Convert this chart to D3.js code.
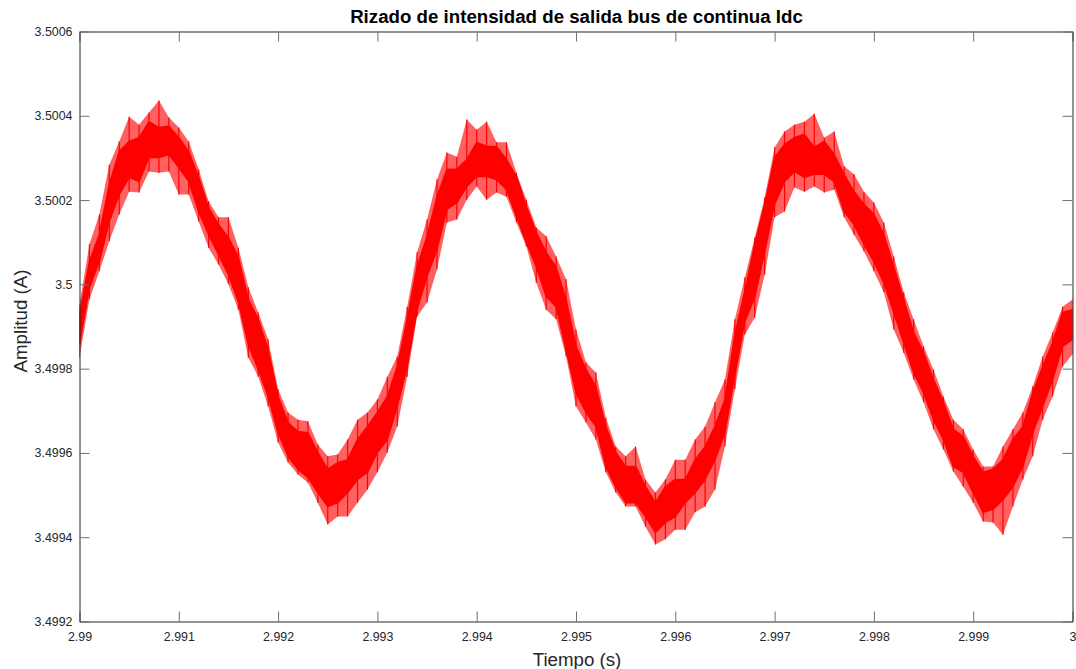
<!DOCTYPE html>
<html>
<head>
<meta charset="utf-8">
<script src="https://cdn.jsdelivr.net/npm/d3@7"></script>
<style>
  html, body { margin: 0; padding: 0; background: #ffffff; }
  svg { display: block; font-family: "Liberation Sans", Arial, Helvetica, sans-serif; }
</style>
</head>
<body>
<svg id="chart" width="1076" height="669"></svg>
<script>
// Ripple of the DC-bus output current, sampled every 0.1 ms.
// For each sample: extent of the dense ripple band (bandTop/bandBottom)
// and extent of the switching spikes (spikeTop/spikeBottom), in amperes.
const tStart = 2.99;
const tStep = 0.0001;

const spikeTop = [
  3.499952, 3.500095, 3.500166, 3.500284, 3.500339, 3.500398, 3.500379, 3.500408, 3.500436, 3.500396,
  3.500372, 3.500339, 3.500273, 3.500197, 3.500159, 3.500159, 3.500087, 3.499993, 3.499933, 3.499869,
  3.499751, 3.499696, 3.499679, 3.499675, 3.499620, 3.499592, 3.499596, 3.499632, 3.499679, 3.499696,
  3.499727, 3.499781, 3.499829, 3.499947, 3.500076, 3.500154, 3.500249, 3.500313, 3.500303, 3.500391,
  3.500367, 3.500386, 3.500337, 3.500337, 3.500265, 3.500201, 3.500135, 3.500114, 3.500066, 3.500012,
  3.499893, 3.499815, 3.499791, 3.499684, 3.499615, 3.499592, 3.499615, 3.499537, 3.499506, 3.499537,
  3.499584, 3.499584, 3.499632, 3.499663, 3.499720, 3.499774, 3.499917, 3.500016, 3.500111, 3.500206,
  3.500325, 3.500363, 3.500379, 3.500386, 3.500405, 3.500348, 3.500363, 3.500280, 3.500261, 3.500220,
  3.500194, 3.500147, 3.500066, 3.499981, 3.499917, 3.499853, 3.499798, 3.499734, 3.499679, 3.499656,
  3.499608, 3.499568, 3.499568, 3.499615, 3.499656, 3.499696, 3.499758, 3.499829, 3.499886, 3.499947,
  3.499964
];

const bandTop = [
  3.499928, 3.500054, 3.500118, 3.500237, 3.500315, 3.500339, 3.500348, 3.500386, 3.500372, 3.500375,
  3.500348, 3.500315, 3.500254, 3.500182, 3.500142, 3.500111, 3.500064, 3.499964, 3.499917, 3.499845,
  3.499734, 3.499672, 3.499651, 3.499648, 3.499601, 3.499561, 3.499577, 3.499584, 3.499632, 3.499663,
  3.499696, 3.499734, 3.499805, 3.499917, 3.500042, 3.500114, 3.500208, 3.500273, 3.500273, 3.500296,
  3.500337, 3.500327, 3.500327, 3.500296, 3.500256, 3.500185, 3.500123, 3.500076, 3.500040, 3.499964,
  3.499853, 3.499798, 3.499758, 3.499663, 3.499601, 3.499568, 3.499568, 3.499520, 3.499482, 3.499520,
  3.499537, 3.499537, 3.499584, 3.499615, 3.499663, 3.499727, 3.499881, 3.499983, 3.500095, 3.500190,
  3.500301, 3.500332, 3.500348, 3.500356, 3.500325, 3.500339, 3.500308, 3.500261, 3.500220, 3.500190,
  3.500166, 3.500118, 3.500042, 3.499964, 3.499886, 3.499838, 3.499774, 3.499720, 3.499656, 3.499639,
  3.499592, 3.499554, 3.499561, 3.499584, 3.499632, 3.499663, 3.499743, 3.499805, 3.499862, 3.499933,
  3.499940
];

const bandBottom = [
  3.499857, 3.499993, 3.500054, 3.500149, 3.500213, 3.500254, 3.500244, 3.500301, 3.500301, 3.500308,
  3.500277, 3.500244, 3.500173, 3.500118, 3.500071, 3.500023, 3.499959, 3.499857, 3.499798, 3.499734,
  3.499648, 3.499592, 3.499561, 3.499542, 3.499506, 3.499473, 3.499482, 3.499506, 3.499537, 3.499554,
  3.499601, 3.499632, 3.499710, 3.499805, 3.499940, 3.500019, 3.500083, 3.500178, 3.500194, 3.500232,
  3.500256, 3.500256, 3.500249, 3.500225, 3.500161, 3.500099, 3.500042, 3.499971, 3.499947, 3.499845,
  3.499743, 3.499696, 3.499663, 3.499568, 3.499520, 3.499482, 3.499482, 3.499449, 3.499411, 3.499435,
  3.499449, 3.499482, 3.499506, 3.499537, 3.499584, 3.499648, 3.499786, 3.499912, 3.499969, 3.500078,
  3.500190, 3.500244, 3.500268, 3.500254, 3.500261, 3.500261, 3.500244, 3.500173, 3.500142, 3.500095,
  3.500054, 3.500004, 3.499933, 3.499862, 3.499791, 3.499743, 3.499679, 3.499632, 3.499568, 3.499554,
  3.499506, 3.499459, 3.499466, 3.499489, 3.499520, 3.499568, 3.499648, 3.499710, 3.499774, 3.499853,
  3.499869
];

const spikeBottom = [
  3.499826, 3.499964, 3.500031, 3.500102, 3.500166, 3.500220, 3.500218, 3.500268, 3.500265, 3.500268,
  3.500213, 3.500213, 3.500149, 3.500087, 3.500047, 3.500000, 3.499940, 3.499826, 3.499781, 3.499710,
  3.499625, 3.499577, 3.499549, 3.499530, 3.499482, 3.499430, 3.499449, 3.499449, 3.499482, 3.499513,
  3.499554, 3.499601, 3.499663, 3.499781, 3.499924, 3.499957, 3.500035, 3.500147, 3.500154, 3.500201,
  3.500232, 3.500201, 3.500218, 3.500208, 3.500147, 3.500090, 3.500004, 3.499940, 3.499917, 3.499829,
  3.499710, 3.499672, 3.499632, 3.499554, 3.499506, 3.499473, 3.499473, 3.499425, 3.499383, 3.499395,
  3.499418, 3.499418, 3.499459, 3.499473, 3.499513, 3.499615, 3.499751, 3.499881, 3.499921, 3.500023,
  3.500159, 3.500173, 3.500230, 3.500220, 3.500232, 3.500218, 3.500225, 3.500159, 3.500118, 3.500078,
  3.500031, 3.499981, 3.499893, 3.499838, 3.499774, 3.499720, 3.499656, 3.499608, 3.499556, 3.499520,
  3.499482, 3.499437, 3.499435, 3.499406, 3.499473, 3.499537, 3.499592, 3.499679, 3.499734, 3.499805,
  3.499834
];

const xTickValues = [2.99, 2.991, 2.992, 2.993, 2.994, 2.995, 2.996, 2.997, 2.998, 2.999, 3.0];
const xTickLabels = ["2.99", "2.991", "2.992", "2.993", "2.994", "2.995", "2.996", "2.997", "2.998", "2.999", "3"];
const yTickValues = [3.4992, 3.4994, 3.4996, 3.4998, 3.5, 3.5002, 3.5004, 3.5006];
const yTickLabels = ["3.4992", "3.4994", "3.4996", "3.4998", "3.5", "3.5002", "3.5004", "3.5006"];

const titleText = "Rizado de intensidad de salida bus de continua Idc";
const xLabelText = "Tiempo (s)";
const yLabelText = "Amplitud (A)";

// ---------------------------------------------------------------------------
const svg = d3.select("#chart");
const plot = { left: 79.5, right: 1072.5, top: 31.5, bottom: 621.5 };

const x = d3.scaleLinear().domain([2.99, 3.0]).range([plot.left, plot.right]);
const y = d3.scaleLinear().domain([3.4992, 3.5006]).range([plot.bottom, plot.top]);

const samples = spikeTop.map((_, i) => ({
  t: tStart + i * tStep,
  sTop: spikeTop[i],
  bTop: bandTop[i],
  bBot: bandBottom[i],
  sBot: spikeBottom[i]
}));

const axisColor = "#262626";
const tickColor = "#6f6f6f";
const red = "#ff0000";

svg.append("defs").append("clipPath").attr("id", "plot-clip")
  .append("rect")
  .attr("x", plot.left).attr("y", plot.top)
  .attr("width", plot.right - plot.left).attr("height", plot.bottom - plot.top);

const series = svg.append("g").attr("clip-path", "url(#plot-clip)");

// spike envelope: fill where the fast switching ripple reaches
series.append("path")
  .datum(samples)
  .attr("fill", red)
  .attr("fill-opacity", 0.62)
  .attr("d", d3.area()
    .x(d => x(d.t))
    .y0(d => y(d.sBot))
    .y1(d => y(d.sTop)));

// dense ripple band
series.append("path")
  .datum(samples)
  .attr("fill", red)
  .attr("stroke", red)
  .attr("stroke-width", 1.5)
  .attr("stroke-linejoin", "round")
  .attr("d", d3.area()
    .x(d => x(d.t))
    .y0(d => y(d.bBot))
    .y1(d => y(d.bTop)));

// switching spikes
series.append("g")
  .selectAll("line")
  .data(samples)
  .join("line")
  .attr("x1", d => x(d.t))
  .attr("x2", d => x(d.t))
  .attr("y1", d => y(d.sTop))
  .attr("y2", d => y(d.sBot))
  .attr("stroke", red)
  .attr("stroke-width", 1.2);

// axes: box with inward ticks on all four sides
const tickLen = 10;
function styleAxis(g) {
  g.select(".domain").attr("stroke", axisColor).attr("stroke-width", 1);
  g.selectAll(".tick line").attr("stroke", tickColor).attr("stroke-width", 1);
  g.selectAll(".tick text")
    .attr("fill", axisColor)
    .style("font-size", "12.4px")
    .style("font-family", "'Liberation Sans', Arial, Helvetica, sans-serif");
}

svg.append("g")
  .attr("transform", `translate(0,${plot.bottom})`)
  .call(d3.axisBottom(x).tickValues(xTickValues)
    .tickFormat((d, i) => xTickLabels[i])
    .tickSizeInner(-tickLen).tickSizeOuter(0).tickPadding(11))
  .call(styleAxis);

svg.append("g")
  .attr("transform", `translate(0,${plot.top})`)
  .call(d3.axisTop(x).tickValues(xTickValues).tickFormat("")
    .tickSizeInner(-tickLen).tickSizeOuter(0))
  .call(styleAxis);

svg.append("g")
  .attr("transform", `translate(${plot.left},0)`)
  .call(d3.axisLeft(y).tickValues(yTickValues)
    .tickFormat((d, i) => yTickLabels[i])
    .tickSizeInner(-tickLen).tickSizeOuter(0).tickPadding(7))
  .call(styleAxis);

svg.append("g")
  .attr("transform", `translate(${plot.right},0)`)
  .call(d3.axisRight(y).tickValues(yTickValues).tickFormat("")
    .tickSizeInner(-tickLen).tickSizeOuter(0))
  .call(styleAxis);

// title and axis labels
svg.append("text")
  .attr("x", 576.5).attr("y", 23.3)
  .attr("text-anchor", "middle")
  .attr("fill", "#000000")
  .style("font-size", "18.7px")
  .style("font-weight", "bold")
  .text(titleText);

svg.append("text")
  .attr("x", 577).attr("y", 665.5)
  .attr("text-anchor", "middle")
  .attr("fill", axisColor)
  .style("font-size", "18.7px")
  .text(xLabelText);

svg.append("text")
  .attr("transform", "translate(26.5,321) rotate(-90)")
  .attr("text-anchor", "middle")
  .attr("fill", axisColor)
  .style("font-size", "18.7px")
  .text(yLabelText);
</script>
</body>
</html>
